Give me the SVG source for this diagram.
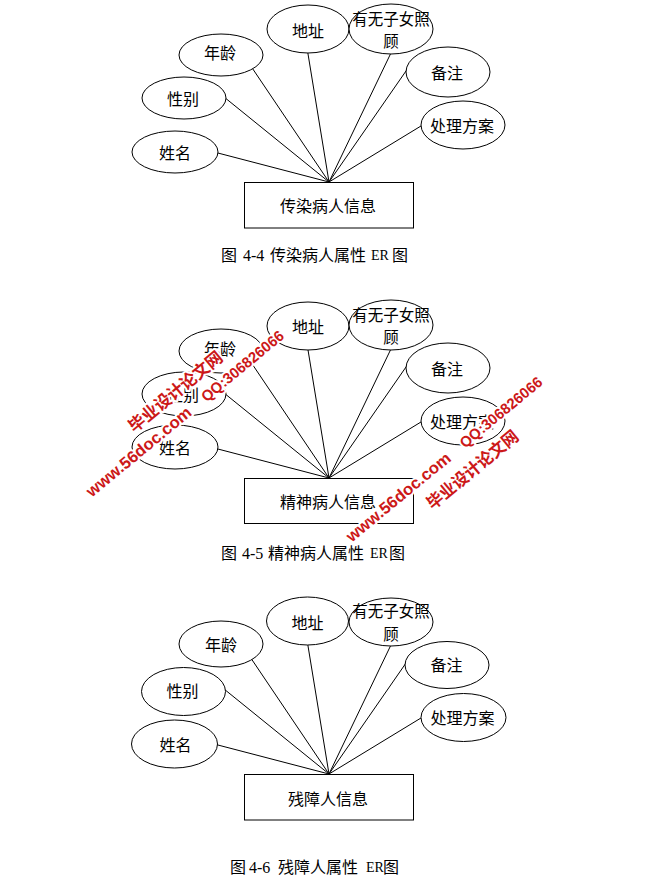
<svg xmlns="http://www.w3.org/2000/svg" width="652" height="885" viewBox="0 0 652 885">
<style>
.e{fill:#fff;stroke:#000;stroke-width:1}
.r{fill:#fff;stroke:#000;stroke-width:1}
.t{font-family:"Noto Sans CJK SC","Noto Sans",sans-serif;font-size:16px;text-anchor:middle;dominant-baseline:central;fill:#000}
.t2{font-size:15.5px}
.cap{font-family:"Liberation Serif","Noto Sans CJK SC",serif;font-size:16px;dominant-baseline:central;fill:#000}
.conn line{stroke:#000;stroke-width:1}
.wm{fill:#cc1818;stroke:#fff;stroke-width:4;paint-order:stroke;stroke-linejoin:round;font-weight:bold;dominant-baseline:central}
.wl{font-family:"Liberation Sans",Arial,sans-serif}
.wc{font-family:"Noto Sans CJK SC",sans-serif}
</style>
<rect width="652" height="885" fill="#fff"/>

<!-- Diagram 1 -->
<g id="diagram1">
<g id="connectors1" class="conn">
<line x1="329" y1="182" x2="208.3" y2="150.5"/>
<line x1="329" y1="182" x2="218.7" y2="92.7"/>
<line x1="329" y1="182" x2="247.9" y2="61.7"/>
<line x1="329" y1="182" x2="306.4" y2="44.1"/>
<line x1="329" y1="182" x2="394.3" y2="46"/>
<line x1="329" y1="182" x2="411.7" y2="62.8"/>
<line x1="329" y1="182" x2="429.5" y2="120.8"/>
</g>
<g id="d1-name"><ellipse class="e" cx="175" cy="152" rx="43" ry="21"/><text class="t" x="175" y="152">姓名</text></g>
<g id="d1-sex"><ellipse class="e" cx="184" cy="98" rx="42" ry="21"/><text class="t" x="183" y="98">性别</text></g>
<g id="d1-age"><ellipse class="e" cx="221" cy="55" rx="42" ry="21"/><text class="t" x="220" y="52">年龄</text></g>
<g id="d1-addr"><ellipse class="e" cx="308" cy="29" rx="41" ry="24"/><text class="t" x="308" y="30">地址</text></g>
<g id="d1-child"><ellipse class="e" cx="391" cy="29" rx="42" ry="25"/><text class="t t2"><tspan x="391" y="17.5">有无子女照</tspan><tspan x="391" y="40">顾</tspan></text></g>
<g id="d1-note"><ellipse class="e" cx="448" cy="72" rx="42" ry="25"/><text class="t" x="447" y="72">备注</text></g>
<g id="d1-plan"><ellipse class="e" cx="463" cy="125" rx="42" ry="24"/><text class="t" x="462" y="125">处理方案</text></g>
<g id="d1-entity"><rect class="r" x="244.5" y="182.5" width="169" height="45.5"/><text class="t" x="328" y="205">传染病人信息</text></g>
<text id="d1-caption" class="cap" y="255"><tspan x="221">图</tspan><tspan x="243">4-4</tspan><tspan x="270">传染病人属性</tspan><tspan x="371" font-size="14">ER</tspan><tspan x="392">图</tspan></text>
</g>

<!-- Diagram 2 -->
<g id="diagram2" transform="translate(0,296)">
<g id="connectors2" class="conn">
<line x1="329" y1="182" x2="208.3" y2="150.5"/>
<line x1="329" y1="182" x2="218.7" y2="92.7"/>
<line x1="329" y1="182" x2="247.9" y2="61.7"/>
<line x1="329" y1="182" x2="306.4" y2="44.1"/>
<line x1="329" y1="182" x2="394.3" y2="46"/>
<line x1="329" y1="182" x2="411.7" y2="62.8"/>
<line x1="329" y1="182" x2="429.5" y2="120.8"/>
</g>
<g id="d2-name"><ellipse class="e" cx="175" cy="151" rx="43" ry="22"/><text class="t" x="175" y="151">姓名</text></g>
<g id="d2-sex"><ellipse class="e" cx="184" cy="98" rx="42" ry="22"/><text class="t" x="183" y="98">性别</text></g>
<g id="d2-age"><ellipse class="e" cx="221" cy="55" rx="42" ry="22"/><text class="t" x="220" y="52">年龄</text></g>
<g id="d2-addr"><ellipse class="e" cx="308" cy="30" rx="41" ry="24"/><text class="t" x="308" y="30">地址</text></g>
<g id="d2-child"><ellipse class="e" cx="391" cy="29" rx="42" ry="25"/><text class="t t2"><tspan x="391" y="17.5">有无子女照</tspan><tspan x="391" y="40">顾</tspan></text></g>
<g id="d2-note"><ellipse class="e" cx="448" cy="72" rx="42" ry="25"/><text class="t" x="447" y="72">备注</text></g>
<g id="d2-plan"><ellipse class="e" cx="463" cy="125" rx="42" ry="24"/><text class="t" x="462" y="125">处理方案</text></g>
<g id="d2-entity"><rect class="r" x="244.5" y="182.5" width="169" height="45"/><text class="t" x="328" y="204.5">精神病人信息</text></g>
<text id="d2-caption" class="cap" y="257"><tspan x="221">图</tspan><tspan x="242">4-5</tspan><tspan x="268">精神病人属性</tspan><tspan x="370" font-size="14">ER</tspan><tspan x="389">图</tspan></text>
</g>

<!-- Diagram 3 -->
<g id="diagram3" transform="translate(0,592)">
<g id="connectors3" class="conn">
<line x1="329" y1="182" x2="208.3" y2="150.5"/>
<line x1="329" y1="182" x2="218.7" y2="92.7"/>
<line x1="329" y1="182" x2="247.9" y2="61.7"/>
<line x1="329" y1="182" x2="306.4" y2="44.1"/>
<line x1="329" y1="182" x2="394.3" y2="46"/>
<line x1="329" y1="182" x2="411.7" y2="62.8"/>
<line x1="329" y1="182" x2="429.5" y2="120.8"/>
</g>
<g id="d3-name"><ellipse class="e" cx="174.5" cy="152" rx="43" ry="24"/><text class="t" x="175.5" y="151.5">姓名</text></g>
<g id="d3-sex"><ellipse class="e" cx="183.5" cy="99.5" rx="42" ry="24"/><text class="t" x="182.5" y="98">性别</text></g>
<g id="d3-age"><ellipse class="e" cx="221" cy="52" rx="42" ry="23"/><text class="t" x="221" y="51.5">年龄</text></g>
<g id="d3-addr"><ellipse class="e" cx="307.5" cy="29" rx="41" ry="24"/><text class="t" x="307.5" y="29.5">地址</text></g>
<g id="d3-child"><ellipse class="e" cx="391" cy="30" rx="42" ry="24"/><text class="t t2"><tspan x="391" y="18">有无子女照</tspan><tspan x="391" y="40.5">顾</tspan></text></g>
<g id="d3-note"><ellipse class="e" cx="447" cy="73" rx="42" ry="23.5"/><text class="t" x="446.5" y="71.5">备注</text></g>
<g id="d3-plan"><ellipse class="e" cx="463.5" cy="125.5" rx="42.5" ry="24"/><text class="t" x="462.5" y="124.5">处理方案</text></g>
<g id="d3-entity"><rect class="r" x="244.5" y="182.5" width="169" height="45.5"/><text class="t" x="328" y="206">残障人信息</text></g>
<text id="d3-caption" class="cap" y="275"><tspan x="230">图</tspan><tspan x="249">4-6</tspan><tspan x="278">残障人属性</tspan><tspan x="366" font-size="14">ER</tspan><tspan x="383">图</tspan></text>
</g>

<!-- Watermarks -->
<g id="watermark-a" class="wm" transform="translate(88,493) rotate(-39.5)">
<text class="wl" x="0" y="0" font-size="16.5" textLength="131" lengthAdjust="spacingAndGlyphs">www.56doc.com</text>
<text class="wl" x="149" y="0" font-size="15" textLength="102" lengthAdjust="spacingAndGlyphs">QQ:306826066</text>
<text class="wc" x="74" y="-24" font-size="17" textLength="116" lengthAdjust="spacingAndGlyphs">毕业设计论文网</text>
</g>
<g id="watermark-b" class="wm" transform="translate(348,538) rotate(-39.5)">
<text class="wl" x="0" y="0" font-size="16.5" textLength="130" lengthAdjust="spacingAndGlyphs">www.56doc.com</text>
<text class="wl" x="147" y="0" font-size="15" textLength="102" lengthAdjust="spacingAndGlyphs">QQ:306826066</text>
<text class="wc" x="83" y="25" font-size="17" textLength="113" lengthAdjust="spacingAndGlyphs">毕业设计论文网</text>
</g>
</svg>
